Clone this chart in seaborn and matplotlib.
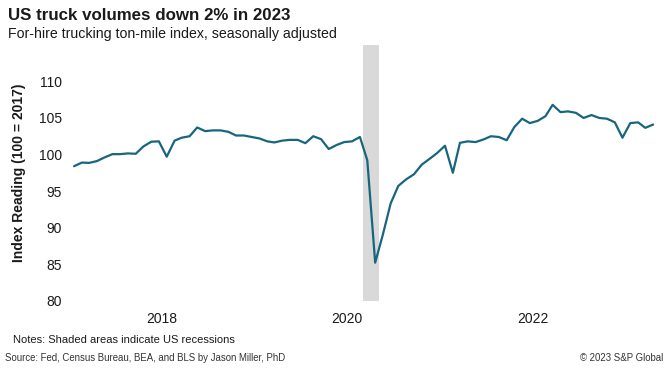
import matplotlib
matplotlib.use("Agg")
import matplotlib.pyplot as plt
import matplotlib.dates as mdates
import pandas as pd
import seaborn as sns

# Monthly index readings, Jan 2017 - Apr 2023
index_values = [
    98.4, 98.9, 98.85, 99.1, 99.6, 100.05, 100.05, 100.15, 100.1, 101.1, 101.75, 101.8,
    99.7, 101.9, 102.3, 102.5, 103.7, 103.2, 103.3, 103.3, 103.1, 102.6, 102.6, 102.4,
    102.2, 101.8, 101.65, 101.9, 102.0, 102.0, 101.55, 102.5, 102.1, 100.75, 101.3, 101.7,
    101.8, 102.4, 99.2, 85.2, 89.0, 93.3, 95.7, 96.6, 97.3, 98.6, 99.4, 100.2,
    101.2, 97.5, 101.6, 101.8, 101.7, 102.05, 102.5, 102.4, 101.95, 103.75, 104.9, 104.3,
    104.6, 105.25, 106.8, 105.8, 105.9, 105.7, 105.0, 105.4, 105.0, 104.9, 104.4, 102.3,
    104.3, 104.4, 103.65, 104.1,
]
start_month = "2017-01-01"
recession_start = "2020-03-05"
recession_end = "2020-05-05"
y_ticks = [80, 85, 90, 95, 100, 105, 110]
x_tick_years = [2018, 2020, 2022]

title = "US truck volumes down 2% in 2023"
subtitle = "For-hire trucking ton-mile index, seasonally adjusted"
y_label = "Index Reading (100 = 2017)"
notes = "Notes: Shaded areas indicate US recessions"
source = "Source: Fed, Census Bureau, BEA, and BLS by Jason Miller, PhD"
copyright_text = "\u00a9 2023 S&P Global"

dates = pd.date_range(start_month, periods=len(index_values), freq="MS") + pd.Timedelta(days=20)
df = pd.DataFrame({"date": dates, "index": index_values})

sns.set_style("white")
plt.rcParams["font.family"] = ["Liberation Sans", "DejaVu Sans"]

fig = plt.figure(figsize=(6.7, 3.68), dpi=100)
ax = fig.add_axes([0.1045, 0.183, 0.8806, 0.695])

ax.axvspan(pd.Timestamp(recession_start), pd.Timestamp(recession_end),
           color="#d9d9d9", lw=0, zorder=0)
sns.lineplot(data=df, x="date", y="index", ax=ax, color="#17667e", linewidth=1.6)

ax.set_ylim(80, 115)
ax.set_yticks(y_ticks)
ax.set_xlim(pd.Timestamp("2017-01-05"), pd.Timestamp("2023-05-18"))
ax.set_xticks([pd.Timestamp(f"{y}-01-01") for y in x_tick_years])
ax.xaxis.set_major_formatter(mdates.DateFormatter("%Y"))
ax.tick_params(axis="both", length=0, labelsize=10, colors="#1a1a1a")
ax.tick_params(axis="y", pad=6)
ax.tick_params(axis="x", pad=8)
ax.set_xlabel("")
ax.set_ylabel(y_label, fontsize=10, fontweight="bold", color="#1a1a1a")
ax.yaxis.set_label_coords(-0.075, 0.5)
sns.despine(ax=ax, left=True, bottom=True)

fig.text(0.012, 0.945, title, fontsize=12.2, fontweight="bold", color="#1a1a1a", va="baseline")
fig.text(0.012, 0.898, subtitle, fontsize=10.2, color="#1a1a1a", va="baseline")
fig.text(0.019, 0.077, notes, fontsize=8, color="#1a1a1a", va="center")
fig.text(0.008, 0.027, source, fontsize=6.9, color="#333333", va="center")
fig.text(0.99, 0.027, copyright_text, fontsize=6.9, color="#333333", va="center", ha="right")

fig.savefig("out.png", dpi=100)
